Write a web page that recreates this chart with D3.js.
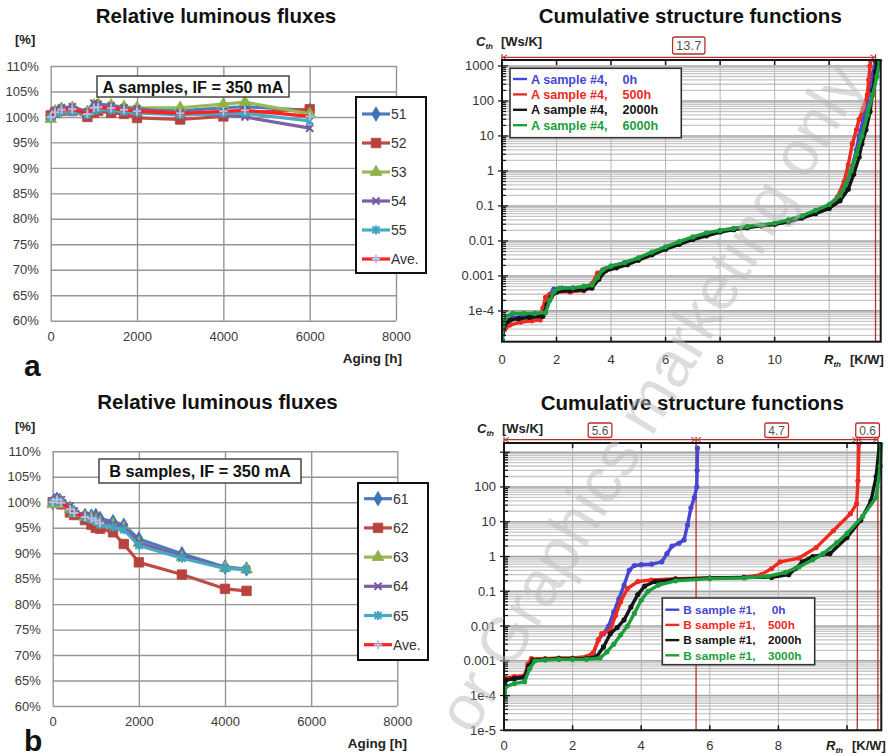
<!DOCTYPE html>
<html>
<head>
<meta charset="utf-8">
<script src="https://cdn.jsdelivr.net/npm/d3@7"></script>
<style>
  body { margin: 0; background: #fff; }
  svg { display: block; }
</style>
</head>
<body>
<svg id="fig" width="888" height="756"></svg>
<script>
// ---------------- relative luminous flux, A samples ----------------
const fluxYTicks = [60, 65, 70, 75, 80, 85, 90, 95, 100, 105, 110];
const fluxXTicks = [0, 2000, 4000, 6000, 8000];
const fluxNamesA = ["51", "52", "53", "54", "55", "Ave."];
const agingA = [0, 100, 250, 500, 850, 1000, 1100, 1400, 1700, 2000, 3000, 4000, 4500, 6000];
const flux51 = [100.2, 101.0, 101.5, 101.6, 100.8, 101.8, 102.0, 101.9, 101.6, 101.4, 101.2, 101.8, 102.0, 101.3];
const flux52 = [100.3, 100.8, 101.2, 101.2, 100.0, 100.8, 101.2, 100.8, 100.6, 99.8, 99.5, 100.1, 100.8, 101.5];
const flux53 = [99.6, 101.0, 101.6, 101.8, 101.0, 102.3, 102.5, 102.3, 102.0, 101.8, 101.8, 102.5, 102.9, 100.6];
const flux54 = [100.0, 101.3, 101.8, 102.0, 101.0, 102.7, 102.5, 102.2, 101.8, 101.6, 100.8, 100.4, 100.0, 97.8];
const flux55 = [100.0, 100.6, 101.0, 101.0, 100.4, 101.2, 101.5, 101.3, 101.0, 100.8, 100.4, 100.7, 100.7, 99.2];
const fluxAveA = [100.0, 100.9, 101.4, 101.5, 100.6, 101.8, 101.9, 101.7, 101.4, 101.1, 100.7, 101.1, 101.3, 100.1];

// ---------------- relative luminous flux, B samples ----------------
const fluxNamesB = ["61", "62", "63", "64", "65", "Ave."];
const agingB = [0, 100, 200, 400, 500, 750, 900, 1000, 1100, 1400, 1650, 2000, 3000, 4000, 4500];
const flux61 = [100.0, 100.6, 100.0, 98.8, 98.0, 97.4, 97.3, 97.4, 96.8, 96.2, 95.5, 92.8, 89.9, 87.3, 86.9];
const flux62 = [100.0, 100.2, 99.6, 98.0, 97.5, 96.5, 95.6, 95.0, 94.8, 94.1, 91.8, 88.2, 85.8, 83.0, 82.6];
const flux63 = [99.6, 100.1, 99.6, 98.6, 97.9, 97.1, 96.9, 96.6, 96.1, 95.6, 95.0, 92.0, 89.2, 87.1, 86.8];
const flux64 = [100.2, 101.0, 100.5, 99.2, 98.3, 97.4, 97.1, 96.9, 96.3, 95.7, 95.1, 92.1, 89.4, 87.1, 86.8];
const flux65 = [100.0, 100.4, 100.0, 98.6, 97.8, 97.0, 96.6, 96.2, 95.6, 95.1, 94.6, 91.5, 89.0, 87.0, 86.8];
const fluxAveB = [100.0, 100.5, 99.9, 98.6, 97.9, 97.1, 96.8, 96.4, 95.9];

// ---------------- cumulative structure functions, A sample #4 ----------------
const cthTicksA = [1e-4, 1e-3, 0.01, 0.1, 1, 10, 100, 1000];
const cthLabelsA = ["1e-4", "0.001", "0.01", "0.1", "1", "10", "100", "1000"];
const rthTicksA = [0, 2, 4, 6, 8, 10];
const rthGridA = [2, 4, 6, 8, 10, 12];
const dimBoundsA = [0, 13.7];
const dimLabelsA = ["13.7"];
const legendPrefixA = "A sample #4,";
const legendAgesA = ["0h", "500h", "2000h", "6000h"];
const cthA0 = [[0,1.5e-5],[0.05,3e-5],[0.15,5e-5],[0.4,6.5e-5],[0.8,7e-5],[1.2,7.5e-5],[1.5,8e-5],[1.6,1.5e-4],[1.75,3e-4],[1.9,4.2e-4],[2.2,4.5e-4],[2.6,4.5e-4],[3.0,4.8e-4],[3.3,5.5e-4],[3.5,9e-4],[3.7,1.5e-3],[4.0,1.9e-3],[4.5,2.4e-3],[5.0,3.2e-3],[5.5,4.5e-3],[6.0,6.5e-3],[6.5,9e-3],[7.0,1.2e-2],[7.5,1.6e-2],[8.0,1.9e-2],[8.5,2.2e-2],[9.0,2.5e-2],[9.5,2.8e-2],[10.0,3.1e-2],[10.5,3.8e-2],[11.0,5e-2],[11.5,7e-2],[12.0,0.1],[12.3,0.15],[12.6,0.35],[12.8,1],[13.0,4],[13.1,10],[13.25,30],[13.4,100],[13.5,250],[13.6,600],[13.7,1300]];
const cthA500 = [[0,2e-5],[0.1,3e-5],[0.3,4e-5],[0.7,4.8e-5],[1.1,5.2e-5],[1.4,5.5e-5],[1.5,1.2e-4],[1.6,2.5e-4],[1.8,3e-4],[2.0,3.5e-4],[2.5,3.5e-4],[3.0,3.8e-4],[3.3,6e-4],[3.5,1.2e-3],[3.8,1.6e-3],[4.2,1.8e-3],[4.6,2.3e-3],[5.0,3.2e-3],[5.5,4.5e-3],[6.0,6.2e-3],[6.5,8.5e-3],[7.0,1.15e-2],[7.5,1.5e-2],[8.0,1.9e-2],[8.5,2.2e-2],[9.0,2.5e-2],[9.5,2.7e-2],[10.0,3e-2],[10.5,3.7e-2],[11.0,5e-2],[11.5,7e-2],[12.0,0.1],[12.3,0.18],[12.55,0.5],[12.7,1.5],[12.85,6],[13.0,15],[13.1,30],[13.25,60],[13.4,150],[13.45,400],[13.5,1000],[13.52,1450]];
const cthA2000 = [[0,1.5e-5],[0.1,4e-5],[0.3,5.5e-5],[0.6,6e-5],[1.0,6.5e-5],[1.5,7e-5],[1.65,1.5e-4],[1.8,2.5e-4],[2.0,3.5e-4],[2.5,3.8e-4],[3.0,4e-4],[3.3,4.5e-4],[3.55,8e-4],[3.8,1.4e-3],[4.2,1.7e-3],[4.6,2.1e-3],[5.0,2.8e-3],[5.5,4e-3],[6.0,5.8e-3],[6.5,8e-3],[7.0,1.1e-2],[7.5,1.4e-2],[8.0,1.8e-2],[8.5,2.1e-2],[9.0,2.4e-2],[9.5,2.7e-2],[10.0,3e-2],[10.5,3.5e-2],[11.0,4.5e-2],[11.5,6e-2],[12.0,8.5e-2],[12.4,0.14],[12.7,0.3],[12.9,0.8],[13.1,2.5],[13.2,6],[13.35,15],[13.5,50],[13.6,200],[13.7,700],[13.75,1300]];
const cthA6000 = [[0,1.5e-5],[0.05,4e-5],[0.15,7e-5],[0.4,8.5e-5],[0.8,8.5e-5],[1.2,8.5e-5],[1.6,9e-5],[1.75,2e-4],[1.9,3.5e-4],[2.1,4.5e-4],[2.6,4.6e-4],[3.0,5e-4],[3.3,5.5e-4],[3.5,9e-4],[3.7,1.5e-3],[4.0,1.9e-3],[4.5,2.4e-3],[5.0,3.3e-3],[5.5,4.8e-3],[6.0,6.8e-3],[6.5,9.5e-3],[7.0,1.3e-2],[7.5,1.7e-2],[8.0,2e-2],[8.5,2.3e-2],[9.0,2.6e-2],[9.5,2.9e-2],[10.0,3.2e-2],[10.5,4e-2],[11.0,5.2e-2],[11.5,7.5e-2],[12.0,0.11],[12.4,0.2],[12.6,0.4],[12.8,1],[13.0,3],[13.2,10],[13.4,40],[13.6,150],[13.75,500],[13.85,1400]];

// ---------------- cumulative structure functions, B sample #1 ----------------
const cthTicksB = [1e-5, 1e-4, 1e-3, 0.01, 0.1, 1, 10, 100];
const cthLabelsB = ["1e-5", "1e-4", "0.001", "0.01", "0.1", "1", "10", "100"];
const rthTicksB = [0, 2, 4, 6, 8];
const rthGridB = [2, 4, 6, 8, 10];
const dimBoundsB = [0, 5.6, 10.3, 10.9];
const dimLabelsB = ["5.6", "4.7", "0.6"];
const legendPrefixB = "B sample #1,";
const legendAgesB = ["0h", "500h", "2000h", "3000h"];
const cthB0 = [[0,1.2e-4],[0.05,2.8e-4],[0.3,3e-4],[0.6,3.3e-4],[0.7,7e-4],[0.8,1.1e-3],[1.2,1.1e-3],[1.6,1.15e-3],[2.0,1.15e-3],[2.4,1.2e-3],[2.6,1.6e-3],[2.75,4e-3],[2.9,6e-3],[3.05,1e-2],[3.2,2.5e-2],[3.35,6e-2],[3.5,0.15],[3.65,0.4],[3.8,0.55],[4.0,0.58],[4.3,0.6],[4.6,0.7],[4.75,1.2],[4.9,2],[5.1,2.4],[5.25,3],[5.35,8],[5.45,25],[5.55,50],[5.62,100],[5.63,300],[5.64,1300]];
const cthB500 = [[0,1.3e-4],[0.05,3.2e-4],[0.3,3.5e-4],[0.6,3.8e-4],[0.7,8e-4],[0.8,1.15e-3],[1.2,1.15e-3],[1.6,1.2e-3],[2.0,1.2e-3],[2.4,1.3e-3],[2.6,1.7e-3],[2.75,4e-3],[2.85,6e-3],[3.1,7.5e-3],[3.25,2e-2],[3.4,5e-2],[3.6,0.12],[3.9,0.19],[4.3,0.21],[5.0,0.23],[6.0,0.24],[7.0,0.25],[7.5,0.3],[7.8,0.45],[8.05,0.7],[8.6,0.9],[9.1,1.8],[9.6,5.5],[10.1,17],[10.28,33],[10.32,150],[10.35,1800]];
const cthB2000 = [[0,1.2e-4],[0.05,2.8e-4],[0.3,3.1e-4],[0.6,3.4e-4],[0.72,7e-4],[0.85,1.05e-3],[1.2,1.1e-3],[1.6,1.15e-3],[2.0,1.15e-3],[2.4,1.15e-3],[2.7,1.3e-3],[2.9,2.5e-3],[3.1,6e-3],[3.3,9e-3],[3.5,1.5e-2],[3.7,3.5e-2],[3.9,8e-2],[4.1,0.14],[4.4,0.19],[5.0,0.22],[6.0,0.24],[7.0,0.25],[7.8,0.25],[8.3,0.3],[8.5,0.45],[8.7,0.7],[9.0,1.0],[9.5,1.2],[10.0,3.5],[10.4,11],[10.7,40],[10.85,200],[10.95,1800]];
const cthB3000 = [[0,9e-5],[0.05,1.8e-4],[0.3,2.2e-4],[0.6,2.5e-4],[0.75,6e-4],[0.9,1e-3],[1.2,1.05e-3],[1.6,1.1e-3],[2.0,1.1e-3],[2.4,1.1e-3],[2.8,1.2e-3],[3.0,1.8e-3],[3.2,3e-3],[3.4,5.5e-3],[3.6,1e-2],[3.8,2.3e-2],[4.0,5.5e-2],[4.2,0.1],[4.5,0.15],[5.0,0.2],[6.0,0.23],[7.0,0.24],[7.7,0.27],[8.2,0.35],[8.6,0.5],[9.0,0.8],[9.3,1.2],[9.7,2.5],[10.0,4.6],[10.45,14],[10.85,50],[10.97,400],[11.0,1800]];

// ---------------- drawing ----------------
const FONT = "'Liberation Sans', Arial, Helvetica, sans-serif";
const svg = d3.select("#fig").attr("font-family", FONT);

// stroked marker shapes
const symX = { draw(ctx, s) { const r = Math.sqrt(s) / 2; ctx.moveTo(-r, -r); ctx.lineTo(r, r); ctx.moveTo(r, -r); ctx.lineTo(-r, r); } };
const symStar = { draw(ctx, s) { const r = Math.sqrt(s) / 2; ctx.moveTo(-r, -r); ctx.lineTo(r, r); ctx.moveTo(r, -r); ctx.lineTo(-r, r); ctx.moveTo(0, -r * 1.25); ctx.lineTo(0, r * 1.25); } };
const symPlus = { draw(ctx, s) { const r = Math.sqrt(s) / 2; ctx.moveTo(-r, 0); ctx.lineTo(r, 0); ctx.moveTo(0, -r); ctx.lineTo(0, r); } };

const fluxStyles = [
  { line: "#4a7ebb", mark: "#3d72b3", sym: d3.symbolDiamond, size: 60, fill: true },
  { line: "#be4b48", mark: "#b8423e", sym: d3.symbolSquare, size: 90, fill: true },
  { line: "#98b954", mark: "#8fb14a", sym: d3.symbolTriangle, size: 60, fill: true },
  { line: "#7d60a0", mark: "#76589a", sym: symX, size: 50, fill: false },
  { line: "#46aac5", mark: "#3fa3bf", sym: symStar, size: 50, fill: false },
  { line: "#ff2020", mark: "#aec2e8", sym: symPlus, size: 70, fill: false }
];

function drawMarker(sel, st) {
  sel.attr("d", d3.symbol(st.sym, st.size));
  if (st.fill) sel.attr("fill", st.mark).attr("stroke", st.mark).attr("stroke-width", 0.8);
  else sel.attr("fill", "none").attr("stroke", st.mark).attr("stroke-width", 2);
}

function drawFlux(c) {
  const g = svg.append("g");
  const x = d3.scaleLinear().domain([0, 8000]).range([c.left, c.right]);
  const y = d3.scaleLinear().domain([60, 110]).range([c.bottom, c.top]);
  const w = c.right - c.left, h = c.bottom - c.top;

  const ya = g.append("g").attr("transform", `translate(${c.left},0)`)
    .call(d3.axisLeft(y).tickValues(fluxYTicks).tickFormat(d => d + "%")
      .tickSizeInner(-w).tickSizeOuter(0).tickPadding(12));
  const xa = g.append("g").attr("transform", `translate(0,${c.bottom})`)
    .call(d3.axisBottom(x).tickValues(fluxXTicks).tickFormat(d3.format("d"))
      .tickSizeInner(-h).tickSizeOuter(0).tickPadding(11));
  [ya, xa].forEach(a => {
    a.attr("font-family", FONT).attr("font-size", 13);
    a.select(".domain").remove();
    a.selectAll("line").attr("stroke", "#969696").attr("stroke-width", 1.4);
    a.selectAll("text").attr("fill", "#3a3a3a");
  });

  c.series.forEach((vals, i) => {
    const st = fluxStyles[i];
    const pts = vals.map((v, j) => [c.times[j], v]);
    g.append("path").datum(pts)
      .attr("d", d3.line().x(d => x(d[0])).y(d => y(d[1])))
      .attr("fill", "none").attr("stroke", st.line).attr("stroke-width", 3.2)
      .attr("stroke-linejoin", "round");
    g.selectAll(null).data(pts).join("path")
      .attr("transform", d => `translate(${x(d[0])},${y(d[1])})`)
      .call(drawMarker, st);
  });

  // sample annotation
  g.append("rect").attr("x", c.note.x).attr("y", c.note.y).attr("width", c.note.w).attr("height", c.note.h)
    .attr("fill", "#fff").attr("stroke", "#444").attr("stroke-width", 1.5);
  g.append("text").attr("x", c.note.x + c.note.w / 2).attr("y", c.note.y + c.note.h / 2 + 6)
    .attr("text-anchor", "middle").attr("font-weight", "bold").attr("font-size", 16.3)
    .attr("fill", "#111").text(c.note.text);

  // legend
  const L = c.legend;
  g.append("rect").attr("x", L.x).attr("y", L.y).attr("width", L.w).attr("height", L.h)
    .attr("fill", "#fff").attr("stroke", "#111").attr("stroke-width", 2);
  c.names.forEach((n, i) => {
    const st = fluxStyles[i];
    const yy = L.first + i * L.step;
    g.append("line").attr("x1", L.x + 6).attr("x2", L.x + 34).attr("y1", yy).attr("y2", yy)
      .attr("stroke", st.line).attr("stroke-width", 3.2);
    g.append("path").attr("transform", `translate(${L.x + 20},${yy})`).call(drawMarker, st);
    g.append("text").attr("x", L.x + 35).attr("y", yy + 5).attr("font-size", 14)
      .attr("fill", "#333").text(n);
  });

  // titles and axis captions
  g.append("text").attr("x", c.titleX).attr("y", c.titleY).attr("text-anchor", "middle")
    .attr("font-weight", "bold").attr("font-size", 20.5).attr("fill", "#111").text("Relative luminous fluxes");
  g.append("text").attr("x", 15).attr("y", c.unitY).attr("font-weight", "bold").attr("font-size", 13)
    .attr("fill", "#222").text("[%]");
  g.append("text").attr("x", c.agingX).attr("y", c.agingY).attr("text-anchor", "end")
    .attr("font-weight", "bold").attr("font-size", 13.5).attr("fill", "#222").text("Aging [h]");
  g.append("text").attr("x", 24).attr("y", c.letterY).attr("font-weight", "bold").attr("font-size", 30)
    .attr("fill", "#111").text(c.letter);
}

const curveColors = ["#4646d2", "#ee2a1e", "#151515", "#1d9e3c"];

function drawStruct(c) {
  const g = svg.append("g");
  const x = d3.scaleLinear().domain(c.xDomain).range([c.left, c.right]);
  const y = d3.scaleLog().domain(c.yDomain).range([c.bottom, c.top]);

  // horizontal grid at every decade subdivision
  const hl = [];
  const k0 = Math.floor(Math.log10(c.yDomain[0])), k1 = Math.ceil(Math.log10(c.yDomain[1]));
  for (let k = k0; k <= k1; k++)
    for (let m = 1; m <= 9; m++) {
      const v = m * Math.pow(10, k);
      if (v >= c.yDomain[0] * 0.999 && v <= c.yDomain[1]) hl.push({ v, major: m === 1 });
    }
  g.selectAll(null).data(hl).join("line")
    .attr("x1", c.left).attr("x2", c.right).attr("y1", d => y(d.v)).attr("y2", d => y(d.v))
    .attr("stroke", d => d.major ? "#a2a2a2" : "#c6c6c6").attr("stroke-width", d => d.major ? 1.6 : 1.3);
  g.selectAll(null).data(c.xGrid).join("line")
    .attr("x1", d => x(d)).attr("x2", d => x(d)).attr("y1", c.top).attr("y2", c.bottom)
    .attr("stroke", "#b4b4b4").attr("stroke-width", 1);

  // dimension lines
  const red = "#b5302c";
  const dy = c.dimY;
  g.append("line").attr("x1", x(c.dimBounds[0])).attr("x2", x(c.dimBounds[c.dimBounds.length - 1]))
    .attr("y1", dy).attr("y2", dy).attr("stroke", red).attr("stroke-width", 1.3);
  g.selectAll(null).data(c.dimBounds).join("line")
    .attr("x1", d => x(d)).attr("x2", d => x(d)).attr("y1", dy - 3).attr("y2", c.bottom)
    .attr("stroke", red).attr("stroke-width", 1.3);
  c.dimLabels.forEach((lab, i) => {
    const a = x(c.dimBounds[i]), b = x(c.dimBounds[i + 1]);
    g.append("path").attr("d", `M${a + 5},${dy - 2.5}L${a + 1},${dy}L${a + 5},${dy + 2.5}M${b - 5},${dy - 2.5}L${b - 1},${dy}L${b - 5},${dy + 2.5}`)
      .attr("fill", "none").attr("stroke", red).attr("stroke-width", 1);
    const t = g.append("text").attr("x", (a + b) / 2).attr("y", c.boxTop + c.boxH / 2 + 4.5)
      .attr("text-anchor", "middle").attr("font-size", c.boxFont).attr("fill", "#555").text(lab);
    const tw = t.node().getComputedTextLength();
    g.insert("rect", () => t.node())
      .attr("x", (a + b) / 2 - tw / 2 - 3.5).attr("y", c.boxTop).attr("width", tw + 7).attr("height", c.boxH)
      .attr("rx", 2).attr("fill", "#fff").attr("stroke", red).attr("stroke-width", 1.3);
  });

  // curves
  const clipId = "clip" + c.id;
  svg.append("clipPath").attr("id", clipId).append("rect")
    .attr("x", c.left).attr("y", c.top).attr("width", c.right - c.left + 2).attr("height", c.bottom - c.top);
  const cg = g.append("g").attr("clip-path", `url(#${clipId})`);
  const line = d3.line().x(d => x(d[0])).y(d => y(d[1]));
  c.curves.forEach((pts, i) => {
    cg.append("path").datum(pts).attr("d", line).attr("fill", "none")
      .attr("stroke", curveColors[i]).attr("stroke-width", 3.4).attr("stroke-linejoin", "round");
    cg.selectAll(null).data(pts).join("circle")
      .attr("cx", d => x(d[0])).attr("cy", d => y(d[1])).attr("r", 2.6).attr("fill", curveColors[i]);
  });

  // frame and ticks
  g.append("rect").attr("x", c.left).attr("y", c.top).attr("width", c.right - c.left).attr("height", c.bottom - c.top)
    .attr("fill", "none").attr("stroke", "#151515").attr("stroke-width", 2);
  g.selectAll(null).data(hl).join("line")
    .attr("x1", d => d.major ? c.left - 4 : c.left).attr("x2", d => d.major ? c.left + 6 : c.left + 4)
    .attr("y1", d => y(d.v)).attr("y2", d => y(d.v)).attr("stroke", "#151515").attr("stroke-width", 1.2);
  g.selectAll(null).data(c.xGrid).join("path")
    .attr("d", d => `M${x(d)},${c.top}v5M${x(d)},${c.bottom}v-5`).attr("stroke", "#151515").attr("stroke-width", 1.5);

  // tick labels
  g.selectAll(null).data(c.yTicks).join("text")
    .attr("x", c.left - 8).attr("y", d => y(d) + 4.5).attr("text-anchor", "end")
    .attr("font-size", 13).attr("fill", "#333").text((d, i) => c.yLabels[i]);
  g.selectAll(null).data(c.xTicks).join("text")
    .attr("x", d => x(d)).attr("y", c.xLabelY).attr("text-anchor", "middle")
    .attr("font-size", 13).attr("fill", "#333").text(d => d);

  // axis captions
  const cy = g.append("text").attr("x", c.cthX).attr("y", c.cthY).attr("font-weight", "bold")
    .attr("font-size", 13).attr("fill", "#222");
  cy.append("tspan").attr("font-style", "italic").text("C");
  cy.append("tspan").attr("font-style", "italic").attr("font-size", 8).attr("dy", 3).text("th");
  g.append("text").attr("x", c.cthX + 25).attr("y", c.cthY).attr("font-weight", "bold")
    .attr("font-size", 13).attr("fill", "#222").text("[Ws/K]");
  const rx = g.append("text").attr("x", c.rthX).attr("y", c.xLabelY).attr("font-weight", "bold")
    .attr("font-size", 13).attr("fill", "#222");
  rx.append("tspan").attr("font-style", "italic").text("R");
  rx.append("tspan").attr("font-style", "italic").attr("font-size", 8).attr("dy", 3).text("th");
  g.append("text").attr("x", c.rthX + 26).attr("y", c.xLabelY).attr("font-weight", "bold")
    .attr("font-size", 13).attr("fill", "#222").text("[K/W]");

  // legend
  const L = c.legend;
  g.append("rect").attr("x", L.x).attr("y", L.y).attr("width", L.w).attr("height", L.h)
    .attr("fill", "#fff").attr("stroke", "#333").attr("stroke-width", 1.6);
  c.ages.forEach((a, i) => {
    const yy = L.first + i * L.step;
    g.append("line").attr("x1", L.x + 3).attr("x2", L.x + 17).attr("y1", yy).attr("y2", yy)
      .attr("stroke", curveColors[i]).attr("stroke-width", 2.4);
    g.append("text").attr("x", L.x + 21).attr("y", yy + L.font * 0.36).attr("font-weight", "bold")
      .attr("font-size", L.font).attr("fill", curveColors[i]).text(c.prefix);
    g.append("text").attr("x", L.x + (i === 0 ? L.sfx0 : L.sfx)).attr("y", yy + L.font * 0.36).attr("font-weight", "bold")
      .attr("font-size", L.font).attr("fill", curveColors[i]).text(a);
  });

  g.append("text").attr("x", c.titleX).attr("y", c.titleY).attr("text-anchor", "middle")
    .attr("font-weight", "bold").attr("font-size", 20.5).attr("fill", "#111").text("Cumulative structure functions");
}

drawFlux({
  left: 50.7, right: 396, top: 66, bottom: 320.7,
  times: agingA, series: [flux51, flux52, flux53, flux54, flux55, fluxAveA],
  names: fluxNamesA,
  note: { x: 97, y: 76, w: 192, h: 21, text: "A samples, IF = 350 mA" },
  legend: { x: 356, y: 97, w: 70, h: 176, first: 114, step: 29 },
  titleX: 216, titleY: 23, unitY: 44, agingX: 402, agingY: 363, letter: "a", letterY: 376
});

drawFlux({
  left: 52.7, right: 397.3, top: 451.3, bottom: 706,
  times: agingB, series: [flux61, flux62, flux63, flux64, flux65, fluxAveB],
  names: fluxNamesB,
  note: { x: 99, y: 459, w: 202, h: 24, text: "B samples, IF = 350 mA" },
  legend: { x: 358, y: 483, w: 70, h: 177, first: 498.7, step: 29.2 },
  titleX: 217.5, titleY: 408.5, unitY: 431, agingX: 407, agingY: 748, letter: "b", letterY: 751
});

drawStruct({
  id: "A", left: 502, right: 880.7, top: 60, bottom: 341.7,
  xDomain: [0, 13.89], yDomain: [1.32e-5, 1480],
  xGrid: rthGridA, xTicks: rthTicksA, yTicks: cthTicksA, yLabels: cthLabelsA,
  dimBounds: dimBoundsA, dimLabels: dimLabelsA, dimY: 57.3, boxTop: 37, boxH: 17, boxFont: 13,
  curves: [cthA0, cthA500, cthA2000, cthA6000],
  prefix: legendPrefixA, ages: legendAgesA,
  legend: { x: 510, y: 68.3, w: 171.3, h: 69.4, first: 79, step: 15.4, font: 12.6, sfx: 112.5, sfx0: 112.5 },
  xLabelY: 364, rthX: 824, cthX: 476, cthY: 46, titleX: 690.3, titleY: 23
});

drawStruct({
  id: "B", left: 504, right: 881.3, top: 443, bottom: 730.3,
  xDomain: [0, 11], yDomain: [1e-5, 1837],
  xGrid: rthGridB, xTicks: rthTicksB, yTicks: cthTicksB, yLabels: cthLabelsB,
  dimBounds: dimBoundsB, dimLabels: dimLabelsB, dimY: 439.7, boxTop: 423, boxH: 14.5, boxFont: 12,
  curves: [cthB0, cthB500, cthB2000, cthB3000],
  prefix: legendPrefixB, ages: legendAgesB,
  legend: { x: 662.3, y: 598, w: 152.4, h: 66.7, first: 609.7, step: 15.2, font: 11.8, sfx: 105.7, sfx0: 109.4 },
  xLabelY: 750, rthX: 826, cthX: 477, cthY: 433, titleX: 692.3, titleY: 409.5
});

// publisher watermark
svg.append("text")
  .attr("transform", "translate(458,728) rotate(-59)")
  .attr("dy", "0.26em").attr("font-size", 64).attr("fill", "#bcbcbc").attr("opacity", 0.5)
  .text("or Graphics marketing only");
</script>
</body>
</html>
